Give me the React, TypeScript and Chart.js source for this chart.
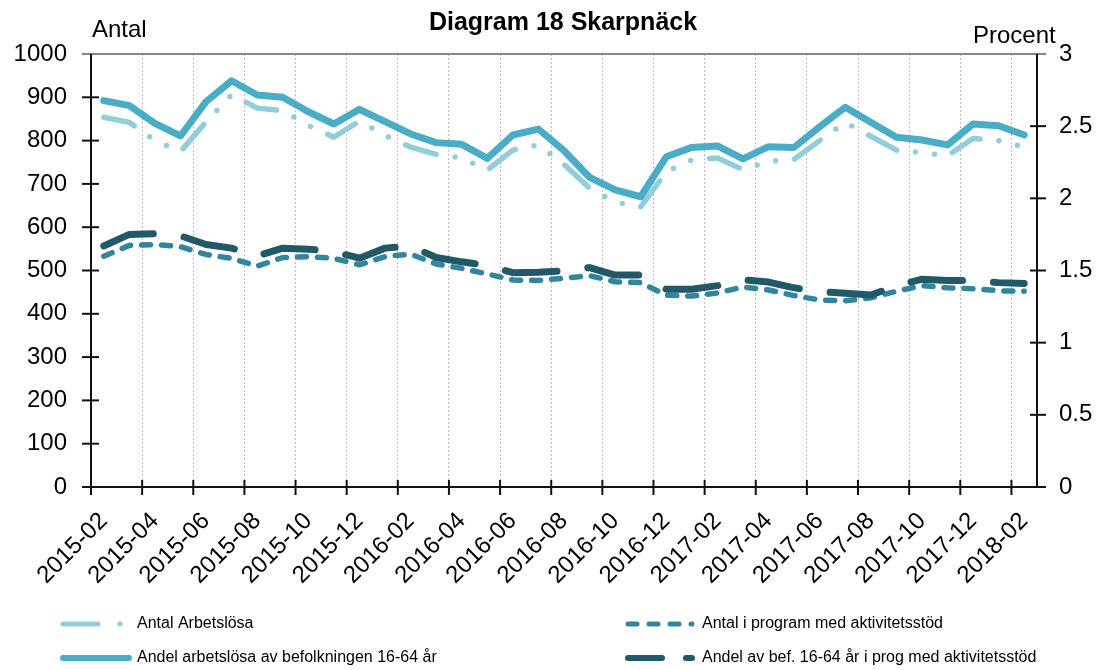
import React, { useEffect, useRef } from "react";
import { Chart, registerables } from "chart.js";

Chart.register(...registerables);

const FONT = "'Liberation Sans', Arial, Helvetica, sans-serif";

const months = [
  "2015-02", "2015-03", "2015-04", "2015-05", "2015-06", "2015-07", "2015-08", "2015-09", "2015-10", "2015-11", "2015-12",
  "2016-01", "2016-02", "2016-03", "2016-04", "2016-05", "2016-06", "2016-07", "2016-08", "2016-09", "2016-10", "2016-11", "2016-12",
  "2017-01", "2017-02", "2017-03", "2017-04", "2017-05", "2017-06", "2017-07", "2017-08", "2017-09", "2017-10", "2017-11", "2017-12",
  "2018-01", "2018-02",
];

// Left axis (Antal)
const antalArbetslosa = [
  854, 842, 800, 775, 843, 906, 875, 869, 835, 808, 845, 812, 785, 768, 760, 732, 778, 790, 745, 690, 658, 647, 728,
  755, 760, 733, 752, 757, 800, 842, 810, 778, 772, 765, 805, 800, 785,
];
const antalProgram = [
  533, 558, 560, 555, 537, 528, 510, 530, 532, 528, 513, 532, 538, 515, 505, 492, 478, 477, 482, 488, 474, 472, 443,
  441, 448, 462, 455, 442, 432, 430, 437, 452, 465, 460, 458, 453, 452,
];

// Right axis (Procent)
const andelArbetslosa = [
  2.677, 2.642, 2.52, 2.432, 2.67, 2.815, 2.716, 2.7, 2.6, 2.515, 2.617, 2.531, 2.446, 2.386, 2.374, 2.277, 2.439, 2.48,
  2.33, 2.146, 2.058, 2.011, 2.288, 2.353, 2.363, 2.273, 2.358, 2.353, 2.496, 2.631, 2.527, 2.423, 2.404, 2.37, 2.515,
  2.503, 2.439,
];
const andelProgram = [
  1.67, 1.75, 1.755, 1.74, 1.68, 1.655, 1.6, 1.655, 1.648, 1.63, 1.585, 1.655, 1.67, 1.59, 1.56, 1.535, 1.485, 1.488,
  1.497, 1.52, 1.468, 1.468, 1.37, 1.37, 1.395, 1.435, 1.42, 1.38, 1.353, 1.342, 1.33, 1.393, 1.44, 1.43, 1.43, 1.416,
  1.41,
];

const seriesNames = [
  "Antal Arbetslösa",
  "Antal i program med aktivitetsstöd",
  "Andel arbetslösa av befolkningen 16-64 år",
  "Andel av bef. 16-64 år i prog med aktivitetsstöd",
];

const C_LIGHT = "#92CDDC";
const C_MED = "#31859C";
const C_MAIN = "#4BACC6";
const C_DARK = "#215968";

const decorPlugin = {
  id: "decor",
  afterDraw(chart: any) {
    const { ctx, chartArea: a, scales } = chart;
    const xs = scales.x;
    const ys = scales.y;
    const ys1 = scales.y1;
    const seg = (x1: number, y1: number, x2: number, y2: number) => {
      ctx.beginPath();
      ctx.moveTo(x1, y1);
      ctx.lineTo(x2, y2);
      ctx.stroke();
    };
    ctx.save();
    ctx.lineCap = "butt";
    // top grey line
    ctx.strokeStyle = "#868686";
    ctx.lineWidth = 2;
    seg(a.left - 9, a.top, a.right + 9, a.top);
    // axes
    ctx.strokeStyle = "#111";
    ctx.lineWidth = 2;
    seg(a.left, a.top, a.left, a.bottom + 8);
    seg(a.right, a.top, a.right, a.bottom);
    seg(a.left - 9, a.bottom, a.right + 9, a.bottom);
    // y tick marks
    ys.ticks.forEach((t: any) => {
      if (t.value >= ys.max) return;
      const py = ys.getPixelForValue(t.value);
      seg(a.left - 9, py, a.left + 8, py);
    });
    ys1.ticks.forEach((t: any) => {
      if (t.value >= ys1.max) return;
      const py = ys1.getPixelForValue(t.value);
      seg(a.right - 7, py, a.right + 9, py);
    });
    // x tick marks at category boundaries
    const step = xs.getPixelForValue(1) - xs.getPixelForValue(0);
    for (let i = 0; i < months.length; i += 2) {
      const px = xs.getPixelForValue(i) - step / 2;
      seg(px, a.bottom - 7, px, a.bottom + 8);
    }

    // titles
    ctx.fillStyle = "#000";
    ctx.textBaseline = "alphabetic";
    ctx.font = `bold 25px ${FONT}`;
    ctx.textAlign = "center";
    ctx.fillText("Diagram 18 Skarpnäck", 563, 30);
    ctx.font = `24px ${FONT}`;
    ctx.textAlign = "left";
    ctx.fillText("Antal", 92, 37);
    ctx.fillText("Procent", 973, 43);

    // legend
    const rows = [624, 658];
    const cols = [60, 625];
    ctx.lineCap = "round";
    // 1: Antal Arbetslösa
    ctx.strokeStyle = C_LIGHT;
    ctx.lineWidth = 5;
    seg(cols[0] + 3, rows[0], cols[0] + 38, rows[0]);
    seg(cols[0] + 60, rows[0], cols[0] + 60, rows[0]);
    // 2: Antal i program
    ctx.strokeStyle = C_MED;
    ctx.lineWidth = 5;
    seg(cols[1] + 3, rows[0], cols[1] + 12, rows[0]);
    seg(cols[1] + 24, rows[0], cols[1] + 33, rows[0]);
    seg(cols[1] + 45, rows[0], cols[1] + 54, rows[0]);
    seg(cols[1] + 66, rows[0], cols[1] + 67, rows[0]);
    // 3: Andel arbetslösa
    ctx.strokeStyle = C_MAIN;
    ctx.lineWidth = 6;
    seg(cols[0] + 3, rows[1], cols[0] + 69, rows[1]);
    // 4: Andel av bef.
    ctx.strokeStyle = C_DARK;
    ctx.lineWidth = 6;
    seg(cols[1] + 3, rows[1], cols[1] + 37, rows[1]);
    seg(cols[1] + 61, rows[1], cols[1] + 67, rows[1]);

    ctx.fillStyle = "#000";
    ctx.font = `16px ${FONT}`;
    ctx.textAlign = "left";
    ctx.textBaseline = "middle";
    ctx.fillText(seriesNames[0], 137, rows[0]);
    ctx.fillText(seriesNames[1], 702, rows[0]);
    ctx.fillText(seriesNames[2], 137, rows[1]);
    ctx.fillText(seriesNames[3], 702, rows[1]);
    ctx.restore();
  },
};

export default function App() {
  const ref = useRef<HTMLCanvasElement | null>(null);
  useEffect(() => {
    if (!ref.current) return;
    const chart = new Chart(ref.current, {
      type: "line",
      data: {
        labels: months,
        datasets: [
          {
            label: seriesNames[0],
            data: antalArbetslosa,
            yAxisID: "y",
            borderColor: C_LIGHT,
            borderWidth: 5.5,
            borderDash: [32, 19, 0, 19, 0, 19],
            borderCapStyle: "round",
            borderJoinStyle: "round",
            pointRadius: 0,
            order: 4,
          },
          {
            label: seriesNames[1],
            data: antalProgram,
            yAxisID: "y",
            borderColor: C_MED,
            borderWidth: 5.5,
            borderDash: [9, 11],
            borderCapStyle: "round",
            borderJoinStyle: "round",
            pointRadius: 0,
            order: 3,
          },
          {
            label: seriesNames[2],
            data: andelArbetslosa,
            yAxisID: "y1",
            borderColor: C_MAIN,
            borderWidth: 7,
            borderCapStyle: "round",
            borderJoinStyle: "round",
            pointRadius: 0,
            order: 2,
          },
          {
            label: seriesNames[3],
            data: andelProgram,
            yAxisID: "y1",
            borderColor: C_DARK,
            borderWidth: 7,
            borderDash: [52, 31],
            borderCapStyle: "round",
            borderJoinStyle: "round",
            pointRadius: 0,
            order: 1,
          },
        ],
      },
      options: {
        responsive: false,
        animation: false,
        layout: { padding: { top: 54, left: 0, right: 0, bottom: 0 } },
        plugins: { legend: { display: false }, tooltip: { enabled: false }, title: { display: false } },
        scales: {
          x: {
            type: "category",
            offset: true,
            grid: {
              display: true,
              offset: true,
              drawTicks: false,
              lineWidth: 1,
              color: (c: any) =>
                c.index % 2 === 0 && c.index > 0 && c.index < months.length ? "#BDBDBD" : "rgba(0,0,0,0)",
            },
            border: { display: false, dash: [2, 2] },
            ticks: {
              autoSkip: false,
              maxRotation: 45,
              minRotation: 45,
              padding: 20,
              color: "#000",
              font: { size: 24, family: FONT },
              callback: (_v: any, i: number) => (i % 2 === 0 ? months[i] : ""),
            },
            afterFit: (s: any) => {
              s.height = 183;
            },
          },
          y: {
            position: "left",
            min: 0,
            max: 1000,
            grid: { display: false, drawTicks: false },
            border: { display: false },
            ticks: {
              stepSize: 100,
              padding: 24,
              color: "#000",
              font: { size: 24, family: FONT },
              callback: (v: any) => String(v),
            },
            afterFit: (s: any) => {
              s.width = 91;
            },
          },
          y1: {
            position: "right",
            min: 0,
            max: 3,
            grid: { display: false, drawTicks: false },
            border: { display: false },
            ticks: {
              stepSize: 0.5,
              padding: 22,
              color: "#000",
              font: { size: 24, family: FONT },
              callback: (v: any) => String(Number(v)),
            },
            afterFit: (s: any) => {
              s.width = 64;
            },
          },
        },
      } as any,
      plugins: [decorPlugin],
    });
    return () => chart.destroy();
  }, []);
  return (
    <div style={{ position: "absolute", left: 0, top: 0, width: 1101, height: 670, background: "#fff" }}>
      <canvas ref={ref} width={1101} height={670} style={{ display: "block" }} />
    </div>
  );
}
